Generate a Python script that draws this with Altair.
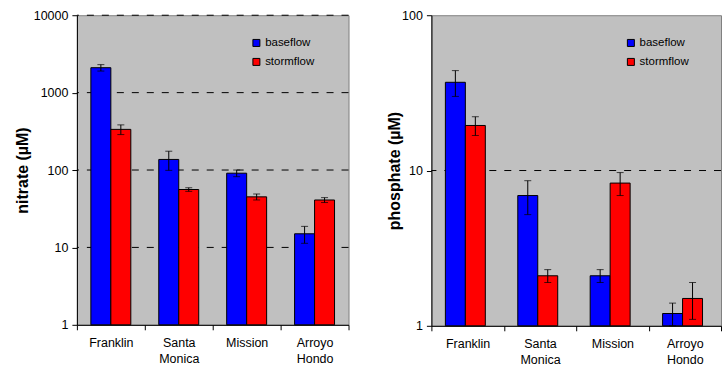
import altair as alt
import pandas as pd

sites = ["Franklin", "Santa Monica", "Mission", "Arroyo Hondo"]
flows = ["baseflow", "stormflow"]

# mean concentrations (µM) and standard errors
nitrate_base = [2100, 137, 91, 15]
nitrate_base_err = [200, 38, 9, 3.7]
nitrate_storm = [335, 56, 45, 41]
nitrate_storm_err = [48, 3, 4, 3]

phosphate_base = [37, 6.9, 2.1, 1.2]
phosphate_base_err = [7, 1.7, 0.2, 0.2]
phosphate_storm = [19.5, 2.1, 8.3, 1.5]
phosphate_storm_err = [2.7, 0.2, 1.4, 0.4]

nitrate_ticks = [1, 10, 100, 1000, 10000]
nitrate_grid = [10, 100, 1000, 10000]
phosphate_ticks = [1, 10, 100]
phosphate_grid = [10]

FONT = "Liberation Sans"
COLORS = ["#0000FF", "#FF0000"]


def make_frame(base, base_err, storm, storm_err):
    rows = []
    for s, v, e in zip(sites, base, base_err):
        rows.append({"site": s, "flow": "baseflow", "value": v, "lo": v - e, "hi": v + e})
    for s, v, e in zip(sites, storm, storm_err):
        rows.append({"site": s, "flow": "stormflow", "value": v, "lo": v - e, "hi": v + e})
    return pd.DataFrame(rows)


def panel(df, title, ticks, grid, width, height, title_x, legend_x):
    lo_dom, hi_dom = ticks[0], ticks[-1]
    yscale = alt.Scale(type="log", domain=[lo_dom, hi_dom])
    yaxis = alt.Axis(
        values=ticks, format="d", grid=False, title=title,
        titleFontSize=16, titleFontWeight="bold", titleFont=FONT,
        titleColor="black", titleX=title_x, titleBaseline="alphabetic",
        labelFontSize=12.5, labelFont=FONT, labelColor="black",
        tickSize=5, labelPadding=4,
    )
    x = alt.X(
        "site:N", sort=sites,
        scale=alt.Scale(paddingInner=0, paddingOuter=0),
        axis=alt.Axis(
            title=None, labelAngle=0, tickBand="extent",
            labelExpr="split(datum.label, ' ')",
            labelFontSize=12.5, labelFont=FONT, labelColor="black",
            labelLineHeight=16, tickSize=5, labelPadding=7,
        ),
    )
    xoff = alt.XOffset("flow:N", sort=flows,
                       scale=alt.Scale(paddingInner=0, paddingOuter=0.7))

    base = alt.Chart(df).encode(x=x, xOffset=xoff)

    bars = base.mark_bar(stroke="black", strokeWidth=1).encode(
        y=alt.Y("value:Q", scale=yscale, axis=yaxis),
        y2=alt.Y2(datum=lo_dom),
        color=alt.Color(
            "flow:N", sort=flows,
            scale=alt.Scale(domain=flows, range=COLORS),
            legend=alt.Legend(
                title=None, orient="none", legendX=legend_x, legendY=22,
                symbolType="square", symbolSize=49, symbolStrokeColor="black",
                symbolStrokeWidth=1, symbolOpacity=1,
                labelFontSize=11.5, labelFont=FONT, labelColor="black",
                labelOffset=3, rowPadding=6, padding=0,
            ),
        ),
    )
    rules = base.mark_rule(color="black", strokeWidth=1).encode(
        y=alt.Y("lo:Q", scale=yscale, axis=yaxis), y2="hi:Q"
    )
    cap_lo = base.mark_tick(color="black", size=7, thickness=1).encode(
        y=alt.Y("lo:Q", scale=yscale, axis=yaxis)
    )
    cap_hi = base.mark_tick(color="black", size=7, thickness=1).encode(
        y=alt.Y("hi:Q", scale=yscale, axis=yaxis)
    )
    gridlines = alt.Chart(pd.DataFrame({"g": grid})).mark_rule(
        color="black", strokeWidth=1, strokeDash=[7, 8]
    ).encode(y=alt.Y("g:Q", scale=yscale, axis=yaxis))

    return alt.layer(gridlines, bars, rules, cap_lo, cap_hi).properties(
        width=width, height=height
    )


nitrate_df = make_frame(nitrate_base, nitrate_base_err, nitrate_storm, nitrate_storm_err)
phosphate_df = make_frame(phosphate_base, phosphate_base_err, phosphate_storm, phosphate_storm_err)

left = panel(nitrate_df, "nitrate (µM)", nitrate_ticks, nitrate_grid, 272, 310, -49, 174)
right = panel(phosphate_df, "phosphate (µM)", phosphate_ticks, phosphate_grid, 290, 311, -32, 194)

chart = alt.hconcat(left, right, spacing=36).resolve_scale(
    color="independent", y="independent"
).resolve_legend(color="independent").properties(
    padding={"left": 14, "top": 8, "right": 0, "bottom": 0},
    background="white",
).configure_view(
    fill="#C0C0C0", stroke="#808080", strokeWidth=1
).configure_axis(
    domainColor="black", tickColor="black", domainWidth=1, tickWidth=1
)

chart.save("out.html", embed_options={"renderer": "svg", "actions": False})
